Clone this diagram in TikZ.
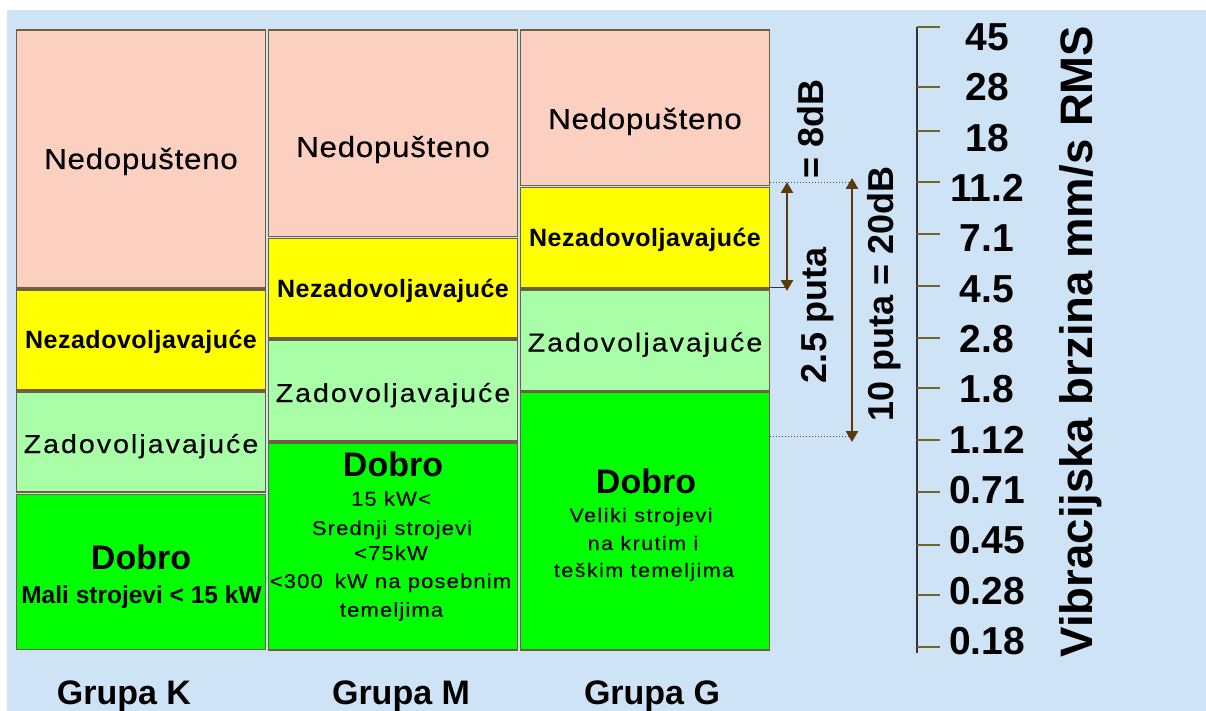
\documentclass[tikz,border=0pt]{standalone}
\usepackage{fontspec}
\setmainfont{Liberation Sans}
\newfontfamily\nedofont[FakeStretch=1.08,LetterSpace=2.5,FakeBold=0.3]{Liberation Sans}
\newfontfamily\zadfont[FakeStretch=1.1,LetterSpace=7.7,FakeBold=0.3]{Liberation Sans}
\newfontfamily\subfontm[FakeStretch=1.1,LetterSpace=5.7,FakeBold=0.3]{Liberation Sans}
\newfontfamily\subfontg[FakeStretch=1.1,LetterSpace=7.5,FakeBold=0.3]{Liberation Sans}
\newfontfamily\nezfont[LetterSpace=2]{Liberation Sans}
\usetikzlibrary{arrows.meta}
\definecolor{bgblue}{RGB}{207,227,246}
\definecolor{pk}{RGB}{251,208,193}
\definecolor{yl}{RGB}{255,255,0}
\definecolor{lg}{RGB}{168,255,168}
\definecolor{gr}{RGB}{0,255,0}
\definecolor{bd}{RGB}{110,95,65}
\definecolor{arrc}{RGB}{92,58,12}
\definecolor{tk}{RGB}{120,100,50}
\newcommand{\fsz}[1]{\fontsize{#1}{#1}\selectfont}
\begin{document}
\begin{tikzpicture}[x=1pt,y=-1pt,
  zone/.style={draw=bd, line width=1.6pt},
  lbl/.style={anchor=base, inner sep=0pt, text=black},
  nedo/.style={lbl, font=\nedofont\fsz{29}},
  nezad/.style={lbl, font=\nezfont\bfseries\fsz{25}},
  zad/.style={lbl, font=\zadfont\fsz{26}},
  dobro/.style={lbl, font=\fsz{34}\bfseries},
  subm/.style={lbl, font=\subfontm\fsz{20}},
  subg/.style={lbl, font=\subfontg\fsz{19.5}},
  grp/.style={lbl, font=\fsz{34}\bfseries},
  num/.style={anchor=center, inner sep=0pt, font=\fsz{39}\bfseries},
  rot/.style={lbl, rotate=90, font=\fsz{36}\bfseries},
  tick/.style={draw=tk, line width=1.3pt},
  axisline/.style={draw=black!80, line width=1.5pt},
  dimarrow/.style={draw=arrc, line width=2.6pt, {Triangle[width=12pt,length=11pt]}-{Triangle[width=12pt,length=11pt]}},
  dotline/.style={draw=black!70, line width=1pt, dotted},
  joinline/.style={draw=black!80, line width=1pt}
]
\useasboundingbox (0,0) rectangle (1206,711);
\fill[white] (0,0) rectangle (1206,711);
\fill[bgblue] (7,10) rectangle (1206,711);

% Column K
\draw[zone, fill=pk] (16.5,30) rectangle (265.5,288);
\draw[zone, fill=yl] (16.5,290) rectangle (265.5,390);
\draw[zone, fill=lg] (16.5,392) rectangle (265.5,492);
\draw[zone, fill=gr] (16.5,494.5) rectangle (265.5,649.5);
% Column M
\draw[zone, fill=pk] (268.5,30) rectangle (517.5,236.5);
\draw[zone, fill=yl] (268.5,238.5) rectangle (517.5,338);
\draw[zone, fill=lg] (268.5,340) rectangle (517.5,441);
\draw[zone, fill=gr] (268.5,443) rectangle (517.5,650);
% Column G
\draw[zone, fill=pk] (520.5,30) rectangle (769.5,185.5);
\draw[zone, fill=yl] (520.5,187.5) rectangle (769.5,288);
\draw[zone, fill=lg] (520.5,290) rectangle (769.5,391);
\draw[zone, fill=gr] (520.5,392.5) rectangle (769.5,650);

% Texts column K
\node[nedo] (kned) at (141,169) {Nedopušteno};
\node[nezad] (knez) at (141,348) {Nezadovoljavajuće};
\node[zad] (kzad) at (141,453) {Zadovoljavajuće};
\node[dobro] (kdob) at (141,569) {Dobro};
\node[lbl, font=\fsz{24.5}\bfseries] (ksub) at (141.5,603) {Mali strojevi < 15 kW};
% Texts column M
\node[nedo] (mned) at (393,157) {Nedopušteno};
\node[nezad] (mnez) at (393,297) {Nezadovoljavajuće};
\node[zad] (mzad) at (393,402) {Zadovoljavajuće};
\node[dobro] (mdob) at (393,476.7) {Dobro};
\node[subm] (ms1) at (391,505.7) {15 kW<};
\node[subm] (ms2) at (392,535) {Srednji strojevi};
\node[subm] (ms3) at (391,560) {<75kW};
\node[subm] (ms4) at (390.5,588) {<300\hspace{12pt}kW na posebnim};
\node[subm] (ms5) at (391.5,616.7) {temeljima};
% Texts column G
\node[nedo] (gned) at (645,129) {Nedopušteno};
\node[nezad] (gnez) at (645,246.5) {Nezadovoljavajuće};
\node[zad] (gzad) at (645,351.5) {Zadovoljavajuće};
\node[dobro] (gdob) at (646,493) {Dobro};
\node[subg] (gs1) at (641,522) {Veliki strojevi};
\node[subg] (gs2) at (643,550) {na krutim i};
\node[subg] (gs3) at (644,577) {teškim temeljima};

% Group labels
\node[grp] (grk) at (124,704) {Grupa K};
\node[grp] (grm) at (401,704) {Grupa M};
\node[grp] (grg) at (652,704) {Grupa G};

% Scale
\coordinate (axtop) at (917,27);
\coordinate (axbot) at (917,653);
\draw[axisline] (axtop) -- (axbot);
\foreach \yy in {27,87,131,182,234,286,338,388,440,492,545,595,647}
  \draw[tick] (917,\yy) -- (940,\yy);
\foreach \lab [count=\i from 0] in {45,28,18,11.2,7.1,4.5,2.8,1.8,1.12,0.71,0.45,0.28,0.18}
  \node[num] (n\i) at (987,37.2+50.33*\i) {\lab};
\node[lbl, rotate=90, font=\fsz{45.5}\bfseries] (title) at (1092,341.5) {Vibracijska brzina mm/s RMS};

% Dimension arrows
\coordinate (d1a) at (770,183);
\coordinate (d1b) at (857,183);
\coordinate (d2a) at (770,436);
\coordinate (d2b) at (852,436);
\draw[dotline] (d1a) -- (d1b);
\draw[dotline] (d2a) -- (d2b);
\coordinate (j1a) at (770,287);
\coordinate (j1b) at (786,287);
\draw[joinline] (j1a) -- (j1b);
\coordinate (a1t) at (787,182);
\coordinate (a1b) at (787,291);
\coordinate (a2t) at (852,178);
\coordinate (a2b) at (852,442);
\draw[dimarrow] (a1t) -- (a1b);
\draw[dimarrow] (a2t) -- (a2b);
\node[rot] (t8db) at (823,129) {= 8dB};
\node[rot] (t25) at (826,315) {2.5 puta};
\node[rot] (t10) at (893,294) {10 puta = 20dB};
\end{tikzpicture}
\end{document}
